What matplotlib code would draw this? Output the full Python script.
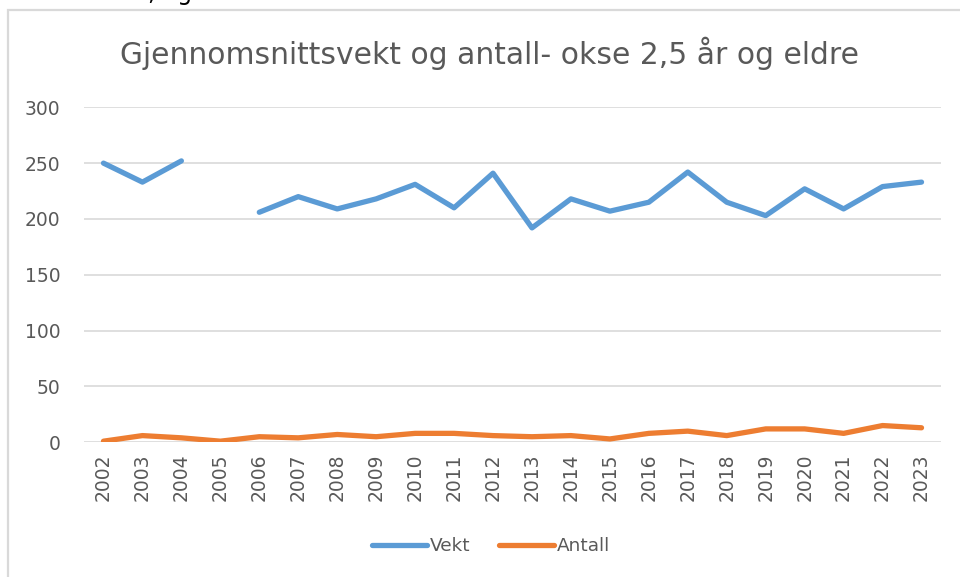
import matplotlib.pyplot as plt
import matplotlib.patches as patches
import numpy as np

# Data
years = [str(y) for y in range(2002, 2024)]
vekt = [250, 233, 252, np.nan, 206, 220, 209, 218, 231, 210, 241, 192,
        218, 207, 215, 242, 215, 203, 227, 209, 229, 233]
antall = [1, 6, 4, 1, 5, 4, 7, 5, 8, 8, 6, 5,
          6, 3, 8, 10, 6, 12, 12, 8, 15, 13]
y_ticks = [0, 50, 100, 150, 200, 250, 300]

plt.rcParams['font.family'] = ['DejaVu Sans']

fig = plt.figure(figsize=(9.6, 5.77), dpi=100)
W, H = 960, 577

# chart frame (light gray border, cut off at right/bottom)
frame = patches.Rectangle((8 / W, -0.05), 1.1, 1 - 10 / H + 0.05,
                          transform=fig.transFigure, fill=False,
                          edgecolor='#D9D9D9', linewidth=1.6, clip_on=False)
fig.patches.append(frame)

# fragment of surrounding document text at the very top
fig.text(148 / W, 1 + 7 / H, ", og", fontsize=17, color='black',
         ha='left', va='center')

ax = fig.add_axes([84 / W, 1 - 442.3 / H, (941 - 84) / W, (442.3 - 107.3) / H])
x = np.arange(len(years))
ax.plot(x, vekt, color='#5B9BD5', linewidth=3.8, label='Vekt',
        solid_capstyle='round', solid_joinstyle='round')
ax.plot(x, antall, color='#ED7D31', linewidth=3.8, label='Antall',
        solid_capstyle='round', solid_joinstyle='round')

ax.set_xlim(-0.5, len(years) - 0.5)
ax.set_ylim(0, 300)
ax.set_yticks(y_ticks)
ax.set_xticks(x)
ax.set_xticklabels(years, rotation=90)
ax.tick_params(axis='both', length=0, labelsize=13.5, colors='#595959')
ax.tick_params(axis='y', pad=17)
ax.tick_params(axis='x', pad=8)
ax.grid(axis='y', color='#D9D9D9', linewidth=1.2)
ax.set_axisbelow(True)
for s in ax.spines.values():
    s.set_visible(False)

fig.text(489 / W, 1 - 53 / H, "Gjennomsnittsvekt og antall- okse 2,5 år og eldre",
         fontsize=21.4, color='#595959', ha='center', va='center')

fig.legend(loc='center', bbox_to_anchor=(491 / W, 1 - 546 / H), ncol=2,
           frameon=False, fontsize=13.3, labelcolor='#595959',
           handlelength=3.0, handletextpad=0.15, columnspacing=1.5)

fig.savefig('out.png', dpi=100)
